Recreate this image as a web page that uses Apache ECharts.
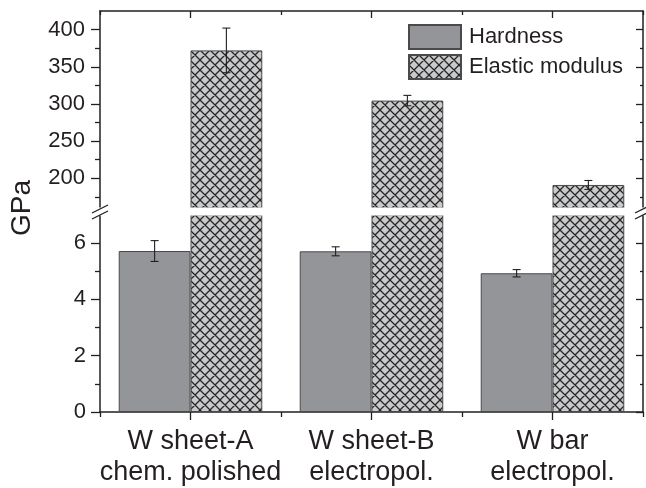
<!DOCTYPE html>
<html>
<head>
<meta charset="utf-8">
<script src="https://cdn.jsdelivr.net/npm/echarts@6/dist/echarts.min.js"></script>
<style>
  html, body { margin: 0; padding: 0; background: #ffffff; }
  #chart { width: 646px; height: 488px; }
</style>
</head>
<body>
<div id="chart"></div>
<script>
// ---- data ----
const categories = ['W sheet-A\nchem. polished', 'W sheet-B\nelectropol.', 'W bar\nelectropol.'];
const hardness = [5.72, 5.71, 4.93];
const hardnessErr = [0.37, 0.16, 0.13];
const modulus = [372, 304.5, 191];
const modulusErr = [30, 7, 6];

// broken value axis: upper panel (GPa, modulus) and lower panel (GPa, hardness)
const upperRange = [160, 425];
const lowerRange = [0, 7];
const upperTicks = [200, 250, 300, 350, 400];
const upperMinorTicks = [175, 225, 275, 325, 375];
const lowerTicks = [0, 2, 4, 6];
const lowerMinorTicks = [1, 3, 5];

// ---- layout & style ----
const INK = '#231f20';
const FONT = '"Liberation Sans", Arial, Helvetica, sans-serif';
const LEFT = 100, RIGHT = 3, TOP = 11, PANEL_H = 197, GAP = 7;
const LOWER_TOP = TOP + PANEL_H + GAP;
const CAT_GAP = 0.207;

// cross-hatch fill for the modulus bars
function hatch() {
  const s = 10;
  const c = document.createElement('canvas');
  c.width = s; c.height = s;
  const g = c.getContext('2d');
  g.fillStyle = '#c9cacc';
  g.fillRect(0, 0, s, s);
  g.strokeStyle = '#262626';
  g.lineWidth = 1.3;
  g.beginPath();
  for (const k of [-s, 0, s]) {
    g.moveTo(k - 1, -1); g.lineTo(k + s + 1, s + 1);
    g.moveTo(k + s + 1, -1); g.lineTo(k - 1, s + 1);
  }
  g.stroke();
  return c;
}

const hardStyle = { color: '#939598', borderColor: '#4a4a4a', borderWidth: 1 };
const modStyle = { color: { image: hatch(), repeat: 'repeat' }, borderColor: '#4a4a4a', borderWidth: 1 };

function catAxis(grid, pos, opts) {
  return Object.assign({
    type: 'category', gridIndex: grid, position: pos, data: categories,
    axisLine: { show: false, onZero: false, lineStyle: { color: INK, width: 1.5 } },
    axisTick: { show: true, lineStyle: { color: INK, width: 1.3 } },
    axisLabel: { show: false },
    splitLine: { show: false }
  }, opts);
}

function valAxis(grid, pos, range, opts) {
  return Object.assign({
    type: 'value', gridIndex: grid, position: pos, min: range[0], max: range[1],
    axisLine: { show: false, lineStyle: { color: INK, width: 1.5 } },
    axisTick: { show: true, lineStyle: { color: INK, width: 1.3 } },
    axisLabel: { show: false },
    splitLine: { show: false }
  }, opts);
}

function tickSet(values, len, inside) {
  return { show: true, customValues: values, length: len, inside: inside, lineStyle: { color: INK, width: 1.3 } };
}

const xAxes = [
  // upper panel: top frame
  catAxis(0, 'top', { axisLine: { show: true, onZero: false, lineStyle: { color: INK, width: 1.5 } },
    axisTick: { show: true, alignWithLabel: true, inside: true, length: 7, lineStyle: { color: INK, width: 1.3 } } }),
  catAxis(0, 'top', { axisTick: { show: true, inside: true, length: 4, lineStyle: { color: INK, width: 1.3 } } }),
  // lower panel: category axis with labels
  catAxis(1, 'bottom', { axisLine: { show: true, onZero: false, lineStyle: { color: INK, width: 1.5 } },
    axisTick: { show: true, alignWithLabel: true, inside: false, length: 8, lineStyle: { color: INK, width: 1.3 } },
    axisLabel: { show: true, interval: 0, hideOverlap: false, color: INK, fontSize: 27, lineHeight: 31,
      margin: 14, fontFamily: FONT } }),
  catAxis(1, 'bottom', { axisTick: { show: true, inside: false, length: 5, lineStyle: { color: INK, width: 1.3 } } })
];

const yAxes = [
  // upper panel
  valAxis(0, 'left', upperRange, { axisLine: { show: true, lineStyle: { color: INK, width: 1.5 } },
    axisTick: tickSet(upperTicks, 9, false),
    axisLabel: { show: true, customValues: upperTicks, color: INK, fontSize: 22, margin: 15, fontFamily: FONT } }),
  valAxis(0, 'left', upperRange, { axisTick: tickSet(upperMinorTicks, 5, false) }),
  valAxis(0, 'right', upperRange, { axisLine: { show: true, lineStyle: { color: INK, width: 1.5 } },
    axisTick: tickSet(upperTicks, 7, true) }),
  valAxis(0, 'right', upperRange, { axisTick: tickSet(upperMinorTicks, 3, true) }),
  // lower panel
  valAxis(1, 'left', lowerRange, { axisLine: { show: true, lineStyle: { color: INK, width: 1.5 } },
    axisTick: tickSet(lowerTicks, 9, false),
    axisLabel: { show: true, customValues: lowerTicks, color: INK, fontSize: 22, margin: 14, fontFamily: FONT } }),
  valAxis(1, 'left', lowerRange, { axisTick: tickSet(lowerMinorTicks, 5, false) }),
  valAxis(1, 'right', lowerRange, { axisLine: { show: true, lineStyle: { color: INK, width: 1.5 } },
    axisTick: tickSet(lowerTicks, 7, true) }),
  valAxis(1, 'right', lowerRange, { axisTick: tickSet(lowerMinorTicks, 3, true) })
];

// error bars: side -1 = left bar of the pair, +1 = right bar
function errorBars(side) {
  return function (params, api) {
    const cat = api.value(0), v = api.value(1), e = api.value(2);
    const band = api.size([1, 0])[0];
    const barW = band * (1 - CAT_GAP) / 2;
    const cx = api.coord([cat, v])[0] + side * barW / 2;
    const yTop = api.coord([cat, v + e])[1];
    const yBot = api.coord([cat, v - e])[1];
    const cap = 4;
    const st = { stroke: INK, lineWidth: 1.1 };
    return {
      type: 'group',
      children: [
        { type: 'line', shape: { x1: cx, y1: yTop, x2: cx, y2: yBot }, style: st },
        { type: 'line', shape: { x1: cx - cap, y1: yTop, x2: cx + cap, y2: yTop }, style: st },
        { type: 'line', shape: { x1: cx - cap, y1: yBot, x2: cx + cap, y2: yBot }, style: st }
      ]
    };
  };
}

const barCommon = { type: 'bar', barGap: '0%', barCategoryGap: (CAT_GAP * 100) + '%', animation: false };

const series = [
  // upper panel: only values inside its range are drawn
  Object.assign({}, barCommon, { name: 'Hardness', xAxisIndex: 0, yAxisIndex: 0, itemStyle: hardStyle,
    data: hardness.map(v => (v >= upperRange[0] ? v : '-')) }),
  Object.assign({}, barCommon, { name: 'Elastic modulus', xAxisIndex: 0, yAxisIndex: 0, itemStyle: modStyle,
    data: modulus }),
  // lower panel
  Object.assign({}, barCommon, { name: 'Hardness', xAxisIndex: 2, yAxisIndex: 4, itemStyle: hardStyle,
    data: hardness }),
  Object.assign({}, barCommon, { name: 'Elastic modulus', xAxisIndex: 2, yAxisIndex: 4, itemStyle: modStyle,
    data: modulus }),
  {
    type: 'custom', name: 'modulus-err', xAxisIndex: 0, yAxisIndex: 0, z: 10, clip: true, animation: false,
    renderItem: errorBars(1), encode: { x: 0, y: 1 },
    data: modulus.map((v, i) => [i, v, modulusErr[i]])
  },
  {
    type: 'custom', name: 'hardness-err', xAxisIndex: 2, yAxisIndex: 4, z: 10, clip: true, animation: false,
    renderItem: errorBars(-1), encode: { x: 0, y: 1 },
    data: hardness.map((v, i) => [i, v, hardnessErr[i]])
  }
];

// axis-break decoration: white gap between the panels and the double slashes
const breakY = TOP + PANEL_H;
function slashes(x) {
  const st = { stroke: INK, lineWidth: 1.3 };
  return [
    { type: 'line', z: 101, shape: { x1: x - 8, y1: breakY + 5, x2: x + 8, y2: breakY - 3 }, style: st },
    { type: 'line', z: 101, shape: { x1: x - 8, y1: breakY + 11, x2: x + 8, y2: breakY + 3 }, style: st }
  ];
}
const axisRight = 646 - RIGHT;

const chart = echarts.init(document.getElementById('chart'), null, { renderer: 'canvas' });
chart.setOption({
  backgroundColor: '#ffffff',
  animation: false,
  textStyle: { fontFamily: FONT, color: INK },
  grid: [
    { left: LEFT, right: RIGHT, top: TOP, height: PANEL_H, outerBoundsMode: 'none' },
    { left: LEFT, right: RIGHT, top: LOWER_TOP, height: PANEL_H, outerBoundsMode: 'none' }
  ],
  legend: {
    data: ['Hardness', 'Elastic modulus'],
    orient: 'vertical', left: 408, top: 24, padding: 0,
    itemWidth: 52, itemHeight: 24, itemGap: 4, icon: 'rect',
    textStyle: { fontSize: 22, color: INK, fontFamily: FONT, padding: [0, 0, 0, 3] },
    selectedMode: false
  },
  xAxis: xAxes,
  yAxis: yAxes,
  series: series,
  graphic: [
    { type: 'rect', z: 100, shape: { x: LEFT - 3, y: breakY - 0.5, width: axisRight - LEFT + 6, height: GAP + 1 },
      style: { fill: '#ffffff' } },
    ...slashes(LEFT),
    ...slashes(axisRight),
    { type: 'text', z: 100, x: 22, y: breakY, rotation: Math.PI / 2,
      style: { text: 'GPa', fontSize: 28, fontFamily: FONT, fill: INK, align: 'center', verticalAlign: 'middle' } }
  ]
});
</script>
</body>
</html>
